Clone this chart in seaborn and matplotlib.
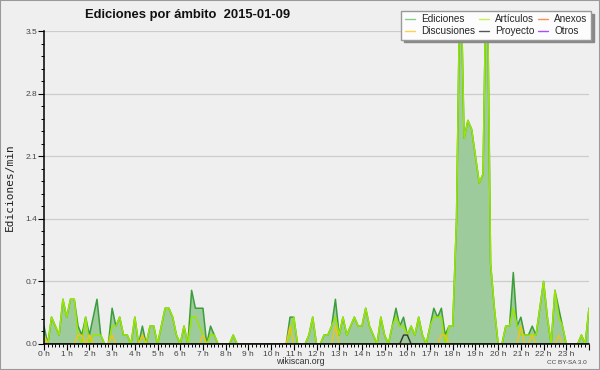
import numpy as np
import matplotlib.pyplot as plt
import seaborn as sns
from matplotlib.lines import Line2D
from matplotlib.patches import Rectangle
from matplotlib.ticker import MultipleLocator, FixedLocator

# 10-minute buckets over the day (0 h .. 24 h)
minutes = list(range(0, 1441, 10))

ediciones = [0.2, 0.0, 0.3, 0.2, 0.1, 0.5, 0.3, 0.5, 0.5, 0.2,
             0.1, 0.3, 0.1, 0.3, 0.5, 0.1, 0.0, 0.0, 0.4, 0.2,
             0.3, 0.1, 0.1, 0.0, 0.3, 0.0, 0.2, 0.0, 0.2, 0.2,
             0.0, 0.2, 0.4, 0.4, 0.3, 0.1, 0.0, 0.2, 0.0, 0.6,
             0.4, 0.4, 0.4, 0.0, 0.2, 0.1, 0.0, 0.0, 0.0, 0.0,
             0.1, 0.0, 0.0, 0.0, 0.0, 0.0, 0.0, 0.0, 0.0, 0.0,
             0.0, 0.0, 0.0, 0.0, 0.0, 0.3, 0.3, 0.0, 0.0, 0.0,
             0.1, 0.3, 0.0, 0.0, 0.1, 0.1, 0.2, 0.5, 0.1, 0.3,
             0.1, 0.2, 0.3, 0.2, 0.2, 0.4, 0.2, 0.1, 0.0, 0.3,
             0.1, 0.0, 0.2, 0.4, 0.2, 0.3, 0.1, 0.2, 0.1, 0.3,
             0.1, 0.0, 0.2, 0.4, 0.3, 0.4, 0.1, 0.2, 0.2, 1.4,
             4.4, 2.3, 2.5, 2.4, 2.1, 1.8, 1.9, 4.6, 0.9, 0.4,
             0.0, 0.0, 0.2, 0.2, 0.8, 0.2, 0.3, 0.1, 0.1, 0.2,
             0.1, 0.4, 0.7, 0.3, 0.0, 0.6, 0.4, 0.2, 0.0, 0.0,
             0.0, 0.0, 0.1, 0.0, 0.4]

articulos = [0.1, 0.0, 0.3, 0.2, 0.1, 0.5, 0.3, 0.5, 0.5, 0.1,
             0.0, 0.3, 0.0, 0.1, 0.1, 0.1, 0.0, 0.0, 0.2, 0.2,
             0.3, 0.1, 0.1, 0.0, 0.3, 0.0, 0.1, 0.0, 0.2, 0.2,
             0.0, 0.2, 0.4, 0.4, 0.3, 0.1, 0.0, 0.2, 0.0, 0.3,
             0.3, 0.2, 0.1, 0.0, 0.1, 0.1, 0.0, 0.0, 0.0, 0.0,
             0.1, 0.0, 0.0, 0.0, 0.0, 0.0, 0.0, 0.0, 0.0, 0.0,
             0.0, 0.0, 0.0, 0.0, 0.0, 0.1, 0.3, 0.0, 0.0, 0.0,
             0.1, 0.3, 0.0, 0.0, 0.1, 0.1, 0.2, 0.3, 0.1, 0.3,
             0.1, 0.2, 0.3, 0.2, 0.2, 0.4, 0.2, 0.1, 0.0, 0.3,
             0.1, 0.0, 0.2, 0.3, 0.2, 0.2, 0.1, 0.2, 0.1, 0.3,
             0.1, 0.0, 0.2, 0.3, 0.3, 0.3, 0.0, 0.2, 0.2, 1.4,
             4.4, 2.3, 2.5, 2.4, 2.1, 1.8, 1.9, 4.6, 0.9, 0.4,
             0.0, 0.0, 0.2, 0.2, 0.4, 0.2, 0.1, 0.1, 0.1, 0.1,
             0.1, 0.4, 0.7, 0.3, 0.0, 0.6, 0.3, 0.2, 0.0, 0.0,
             0.0, 0.0, 0.1, 0.0, 0.4]

discusiones = [0.0] * 145
for i, v in [(0, 0.1), (9, 0.1), (10, 0.1), (12, 0.1), (18, 0.1), (26, 0.1),
             (42, 0.1), (65, 0.2), (77, 0.2), (105, 0.1), (106, 0.1),
             (126, 0.2), (129, 0.1), (136, 0.1)]:
    discusiones[i] = v

proyecto = [0.0] * 145
proyecto[95] = 0.1
proyecto[96] = 0.1

anexos = [0.0] * 145
otros = [0.0] * 145

hour_labels = ["%d h" % h for h in range(24)] + [""]
ytick_vals = [0.0, 0.7, 1.4, 2.1, 2.8, 3.5]

hours = np.array(minutes) / 60.0

sns.set_style("ticks")
plt.rcParams['font.family'] = ['Liberation Sans', 'DejaVu Sans']

bg = '#efefef'
c_ed = '#3c9d3c'
c_fill = '#9ecb9b'
c_art = '#99e600'
c_disc = '#f0c419'
c_proj = '#333333'
c_anex = '#ff8040'
c_otros = '#9b4dff'

fig = plt.figure(figsize=(6, 3.7), dpi=100, facecolor=bg)
ax = fig.add_axes([44/600, 1 - 344/370, 545/600, 313/370])
ax.set_facecolor(bg)

# zero series, kept under the axis line
sns.lineplot(x=hours, y=anexos, ax=ax, color=c_anex, lw=1, zorder=0.5, errorbar=None)
sns.lineplot(x=hours, y=otros, ax=ax, color=c_otros, lw=1, zorder=0.5, errorbar=None)

ax.fill_between(hours, ediciones, 0, color=c_fill, lw=0, zorder=1)
sns.lineplot(x=hours, y=ediciones, ax=ax, color=c_ed, lw=1.1, zorder=2, errorbar=None)
sns.lineplot(x=hours, y=articulos, ax=ax, color=c_art, lw=1.1, zorder=3, errorbar=None)
sns.lineplot(x=hours, y=discusiones, ax=ax, color=c_disc, lw=1.0, zorder=4, errorbar=None)
sns.lineplot(x=hours, y=proyecto, ax=ax, color=c_proj, lw=1.0, zorder=4, errorbar=None)

ax.set_xlim(0, 24)
ax.set_ylim(0, 3.5)

ax.xaxis.set_major_locator(FixedLocator(range(25)))
ax.set_xticklabels(hour_labels)
ax.xaxis.set_minor_locator(MultipleLocator(1/6))
ax.yaxis.set_major_locator(FixedLocator(ytick_vals))
ax.set_yticklabels(["%.1f" % v for v in ytick_vals])
ax.yaxis.set_minor_locator(MultipleLocator(0.14))

ax.yaxis.grid(True, color='#cccccc', lw=0.9)
ax.set_axisbelow(True)

for s in ['top', 'right']:
    ax.spines[s].set_visible(False)
for s in ['left', 'bottom']:
    ax.spines[s].set_color('black')
    ax.spines[s].set_linewidth(1.1)
    ax.spines[s].set_zorder(6)

ax.tick_params(which='major', length=4, width=0.8, color='black',
               labelsize=6, labelcolor='#444444', pad=1)
ax.tick_params(which='minor', length=2.2, width=0.7, color='black')

ax.set_xlabel('')
ax.set_ylabel('Ediciones/min', fontfamily='DejaVu Sans Mono', fontsize=8, color='#222222')
ax.yaxis.set_label_coords(-0.053, 0.5)

fig.text(188/600, 1 - 15/370, 'Ediciones por ámbito  2015-01-09',
         ha='center', va='center', fontsize=9.4, fontweight='bold', color='#111111')
fig.text(300/600, 1 - 361/370, 'wikiscan.org', ha='center', va='center',
         fontsize=6.3, color='#333333')
fig.text(587/600, 1 - 362/370, 'CC BY-SA 3.0', ha='right', va='center',
         fontsize=4.6, color='#444444')

handles = [Line2D([], [], color='#88cc88', lw=1),
           Line2D([], [], color='#ffd04a', lw=1),
           Line2D([], [], color='#c8ee55', lw=1),
           Line2D([], [], color='#555555', lw=1),
           Line2D([], [], color='#ff8c55', lw=1),
           Line2D([], [], color='#a64dff', lw=1)]
labels = ['Ediciones', 'Discusiones', 'Artículos', 'Proyecto', 'Anexos', 'Otros']
fig.legend(handles, labels, ncol=3, loc='upper right',
           bbox_to_anchor=(591/600, 1 - 11/370), fontsize=7.2,
           frameon=True, fancybox=False, edgecolor='#999999', facecolor='#fcfcfc',
           framealpha=1, handlelength=1.0, handletextpad=0.6, columnspacing=0.4,
           labelspacing=0.15, borderpad=0.35, borderaxespad=0,
           shadow={'color': '#888888', 'alpha': 1})

fig.patches.append(Rectangle((0, 0), 1, 1, transform=fig.transFigure, fill=False,
                             edgecolor='#999999', lw=1.5))

fig.savefig('out.png', dpi=100, facecolor=fig.get_facecolor())
